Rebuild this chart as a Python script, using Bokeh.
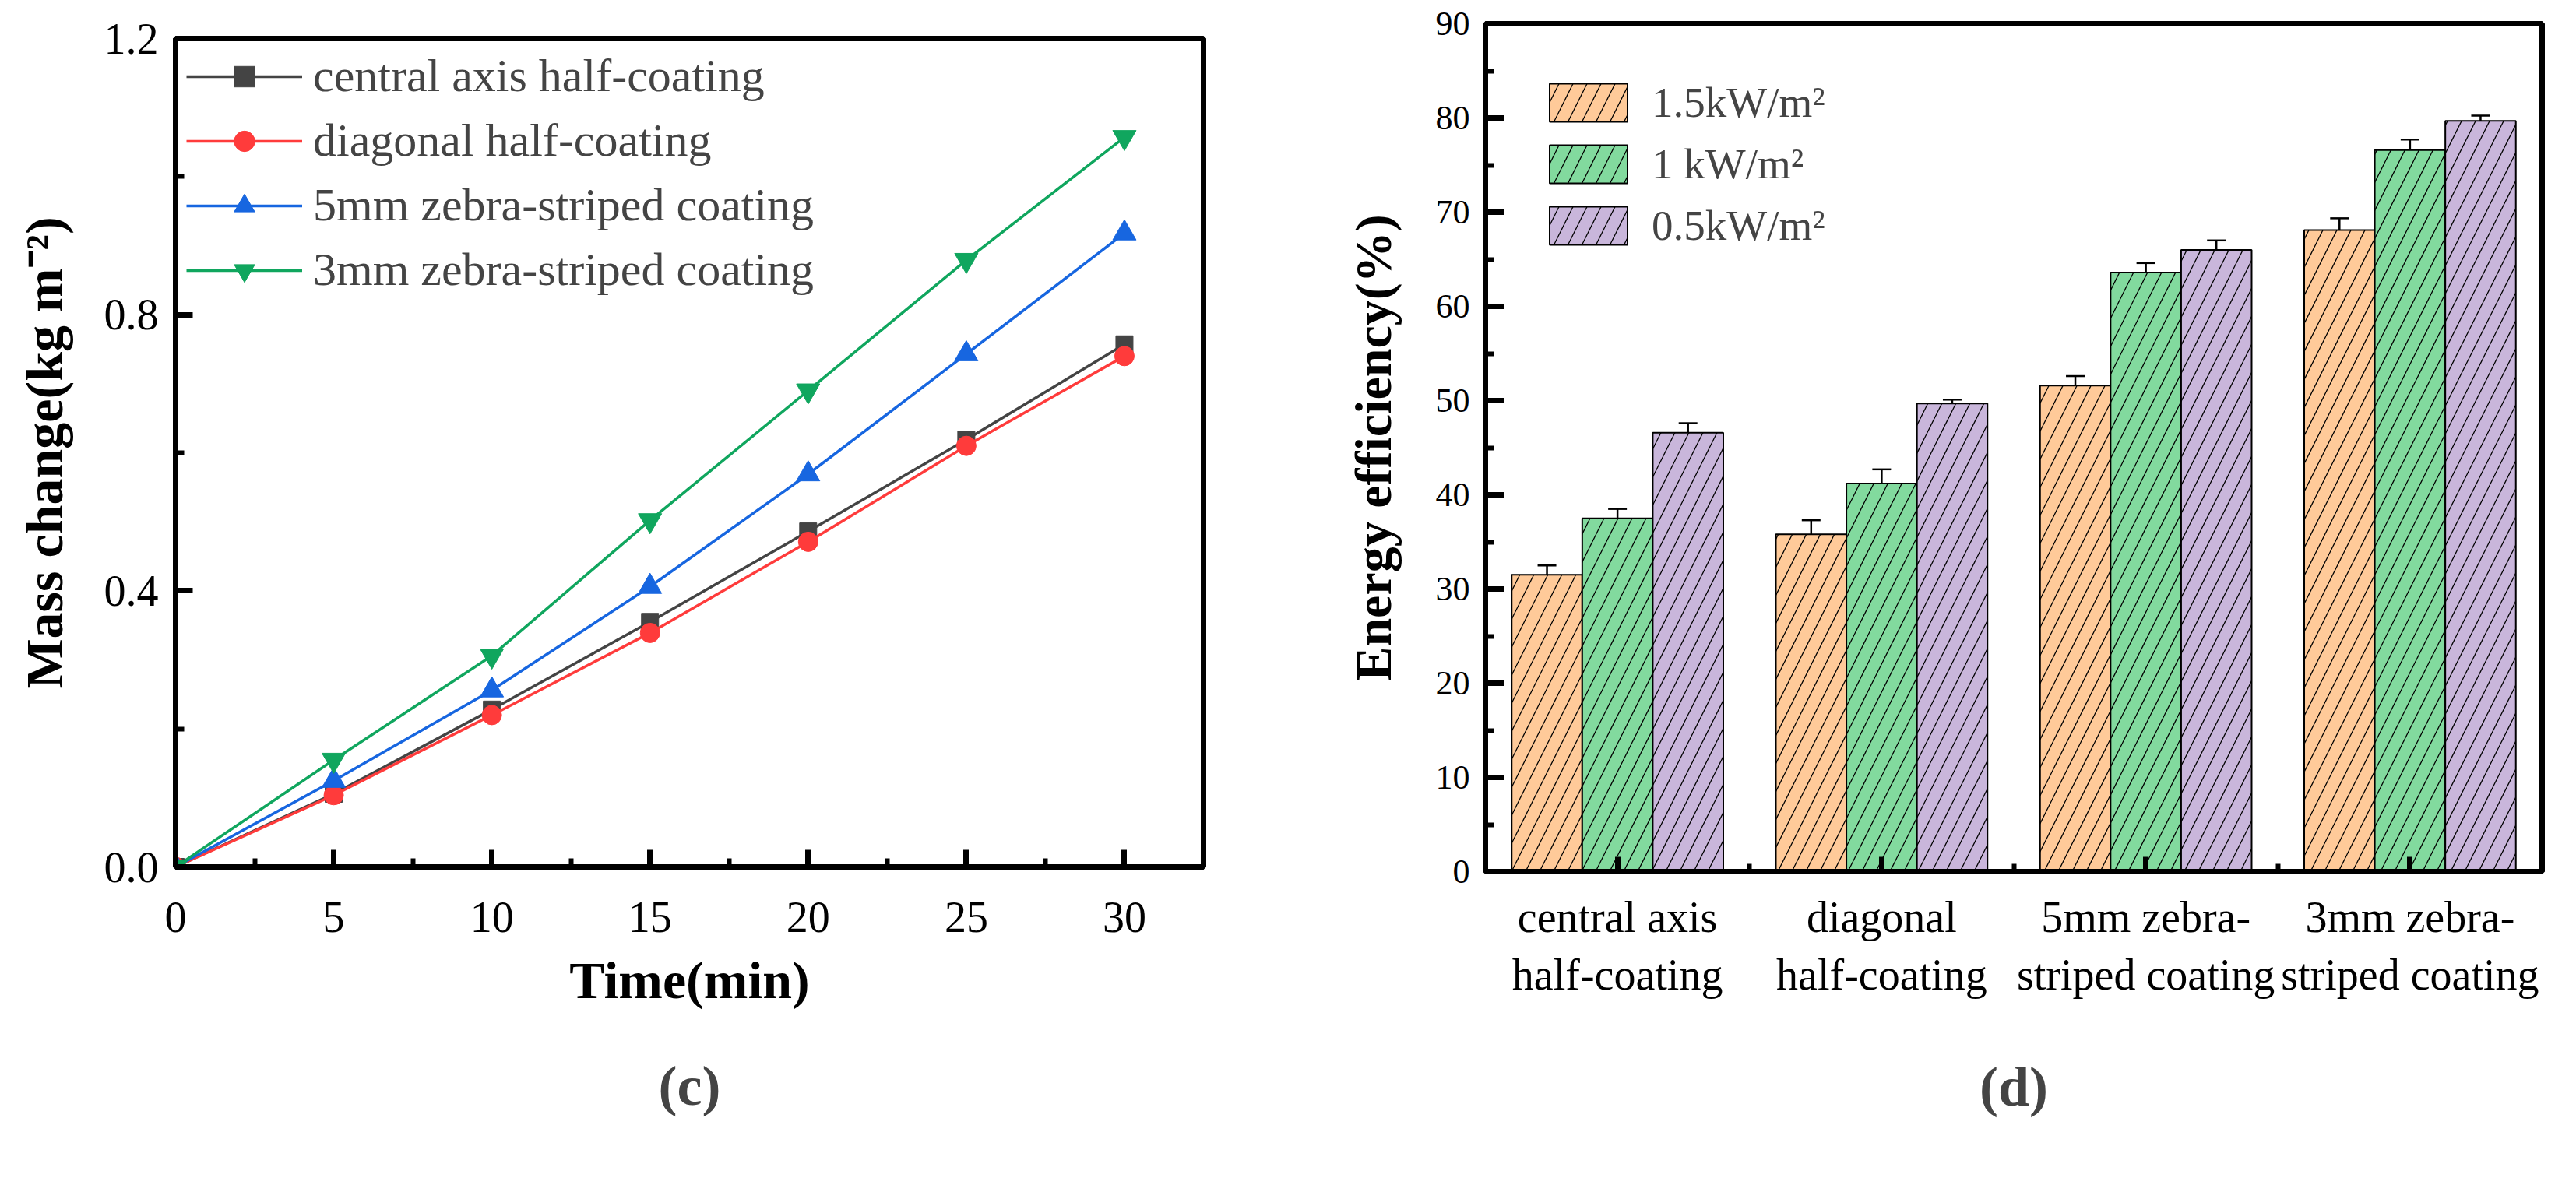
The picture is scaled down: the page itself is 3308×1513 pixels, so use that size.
from bokeh.plotting import figure
from bokeh.models import (Range1d, FixedTicker, Legend, LegendItem, ColumnDataSource,
                          Whisker, TeeHead, Title)
from bokeh.layouts import row
from bokeh.embed import file_html
from bokeh.resources import INLINE

# ---------------- data: panel (c) ----------------
time_min = [0, 5, 10, 15, 20, 25, 30]
central_axis = [0, 0.106, 0.228, 0.355, 0.486, 0.619, 0.757]
diagonal = [0, 0.104, 0.220, 0.339, 0.471, 0.610, 0.740]
zebra_5mm = [0, 0.125, 0.256, 0.406, 0.569, 0.743, 0.918]
zebra_3mm = [0, 0.155, 0.306, 0.502, 0.690, 0.879, 1.057]
line_names = ["central axis half-coating", "diagonal half-coating",
              "5mm zebra-striped coating", "3mm zebra-striped coating"]
x_ticks_c = [0, 5, 10, 15, 20, 25, 30]
y_ticks_c = [0.0, 0.4, 0.8, 1.2]
y_labels_c = ["0.0", "0.4", "0.8", "1.2"]

# ---------------- data: panel (d) ----------------
groups = ["central axis\nhalf-coating", "diagonal\nhalf-coating",
          "5mm zebra-\nstriped coating", "3mm zebra-\nstriped coating"]
irr_names = ["1.5kW/m²", "1 kW/m²", "0.5kW/m²"]
eff_15 = [31.5, 35.8, 51.6, 68.1]
eff_10 = [37.5, 41.2, 63.6, 76.6]
eff_05 = [46.6, 49.7, 66.0, 79.7]
err_15 = [1.0, 1.5, 1.0, 1.25]
err_10 = [1.0, 1.5, 1.0, 1.1]
err_05 = [1.0, 0.4, 1.0, 0.55]
y_ticks_d = [0, 10, 20, 30, 40, 50, 60, 70, 80, 90]

FONT = "Liberation Serif"

# ================= panel (c) =================
p1 = figure(frame_width=1320, frame_height=1064, output_backend="svg",
            toolbar_location=None, title_location=None,
            x_range=Range1d(0, 32.5), y_range=Range1d(0, 1.2),
            min_border_left=225, min_border_right=55, min_border_top=49,
            min_border_bottom=40)
p1.grid.visible = False
p1.outline_line_color = "black"
p1.outline_line_width = 7

line_colors = ["#444444", "#FF3B3B", "#1766E0", "#10A65E"]
markers = ["square", "circle", "triangle", "inverted_triangle"]
msizes = [22, 25, 30, 30]
series = [central_axis, diagonal, zebra_5mm, zebra_3mm]
items = []
for name, ys, col, mk, ms in zip(line_names, series, line_colors, markers, msizes):
    src = ColumnDataSource(dict(x=time_min, y=ys))
    lr = p1.line("x", "y", source=src, line_color=col, line_width=3.5)
    sr = p1.scatter("x", "y", source=src, marker=mk, size=ms, fill_color=col,
                    line_color=col)
    items.append(LegendItem(label=name, renderers=[lr, sr]))

leg1 = Legend(items=items, location="top_left", border_line_color=None,
              background_fill_alpha=0, glyph_width=149, glyph_height=66,
              label_height=66, label_standoff=14, spacing=14, margin=14, padding=13,
              label_text_font=FONT, label_text_font_size="60px")
p1.add_layout(leg1, "center")

for ax in (p1.xaxis[0], p1.yaxis[0]):
    ax.axis_line_width = 7
    ax.major_tick_in = 22
    ax.major_tick_out = 0
    ax.minor_tick_in = 11
    ax.minor_tick_out = 0
    ax.major_tick_line_width = 7
    ax.minor_tick_line_width = 6
    ax.major_tick_line_color = "black"
    ax.minor_tick_line_color = "black"
    ax.major_label_text_font = FONT
    ax.major_label_text_font_size = "56px"
    ax.major_label_text_color = "black"
    ax.axis_label_text_font = FONT
    ax.axis_label_text_font_size = "68px"
    ax.axis_label_text_font_style = "bold"
    ax.axis_label_text_color = "black"

p1.xaxis.ticker = FixedTicker(ticks=x_ticks_c, minor_ticks=[2.5, 7.5, 12.5, 17.5, 22.5, 27.5])
p1.yaxis.ticker = FixedTicker(ticks=y_ticks_c, minor_ticks=[0.2, 0.6, 1.0])
p1.yaxis.major_label_overrides = {t: l for t, l in zip(y_ticks_c, y_labels_c)}
p1.xaxis.axis_label = "Time(min)"
p1.yaxis.axis_label = "Mass change(kg m⁻²)"
p1.xaxis.major_label_standoff = 45
p1.yaxis.major_label_standoff = 22
p1.xaxis.axis_label_standoff = 21
p1.yaxis.axis_label_standoff = 36

p1.add_layout(Title(text="(c)", align="center", offset=-103, standoff=107,
                    text_font=FONT, text_font_size="72px", text_font_style="bold"),
              "below")

# ================= panel (d) =================
p2 = figure(frame_width=1357, frame_height=1089, output_backend="svg",
            toolbar_location=None, title_location=None,
            x_range=Range1d(-0.5, 3.5), y_range=Range1d(0, 90),
            min_border_left=307, min_border_right=21, min_border_top=20,
            min_border_bottom=40, margin=(-19, 0, 0, 0))
p2.grid.visible = False
p2.outline_line_color = "black"
p2.outline_line_width = 7

bar_w = 0.267
bar_colors = ["#FFCA99", "#82DA9E", "#C9B6DB"]
vals = [eff_15, eff_10, eff_05]
errs = [err_15, err_10, err_05]
offsets = [-bar_w, 0.0, bar_w]
gx = list(range(len(groups)))
bar_items = []
for name, v, e, col, off in zip(irr_names, vals, errs, bar_colors, offsets):
    xs = [g + off for g in gx]
    src = ColumnDataSource(dict(x=xs, top=v,
                                upper=[a + b for a, b in zip(v, e)],
                                lower=[a - b for a, b in zip(v, e)]))
    br = p2.vbar(x="x", top="top", bottom=0, width=bar_w, source=src,
                 fill_color=col, line_color="black", line_width=2,
                 hatch_pattern="/", hatch_color="black", hatch_weight=1.3,
                 hatch_scale=36)
    bar_items.append(LegendItem(label=name, renderers=[br]))
    wh = Whisker(base="x", upper="upper", lower="lower", source=src,
                 line_color="black", line_width=2.5,
                 upper_head=TeeHead(size=24, line_color="black", line_width=2.5),
                 lower_head=TeeHead(size=24, line_color="black", line_width=2.5))
    p2.add_layout(wh)

leg2 = Legend(items=bar_items, location="top_left", border_line_color=None,
              background_fill_alpha=0, glyph_width=125, glyph_height=61,
              label_height=61, label_standoff=19, spacing=16, margin=70, padding=10,
              label_text_font=FONT, label_text_font_size="55px")
p2.add_layout(leg2, "center")

for ax in (p2.xaxis[0], p2.yaxis[0]):
    ax.axis_line_width = 7
    ax.major_tick_out = 0
    ax.minor_tick_out = 0
    ax.major_tick_line_width = 7
    ax.minor_tick_line_width = 6
    ax.major_tick_line_color = "black"
    ax.minor_tick_line_color = "black"
    ax.major_label_text_font = FONT
    ax.major_label_text_color = "black"
    ax.axis_label_text_font = FONT
    ax.axis_label_text_font_size = "66px"
    ax.axis_label_text_font_style = "bold"
    ax.axis_label_text_color = "black"

p2.yaxis.major_tick_in = 24
p2.yaxis.minor_tick_in = 11
p2.xaxis.major_tick_in = 19
p2.xaxis.minor_tick_in = 10
p2.yaxis.ticker = FixedTicker(ticks=y_ticks_d, minor_ticks=[5, 15, 25, 35, 45, 55, 65, 75, 85])
p2.xaxis.ticker = FixedTicker(ticks=gx, minor_ticks=[0.5, 1.5, 2.5])
p2.xaxis.major_label_overrides = {g: lab for g, lab in zip(gx, groups)}
p2.xaxis.major_label_text_font_size = "56px"
p2.xaxis.major_label_standoff = 27
p2.yaxis.major_label_text_font_size = "44px"
p2.yaxis.major_label_standoff = 20
p2.yaxis.axis_label = "Energy efficiency(%)"
p2.yaxis.axis_label_standoff = 41

p2.add_layout(Title(text="(d)", align="center", offset=-66, standoff=136,
                    text_font=FONT, text_font_size="72px", text_font_style="bold"),
              "below")

layout = row(p1, p2)
open("out.html", "w").write(file_html(layout, INLINE))
